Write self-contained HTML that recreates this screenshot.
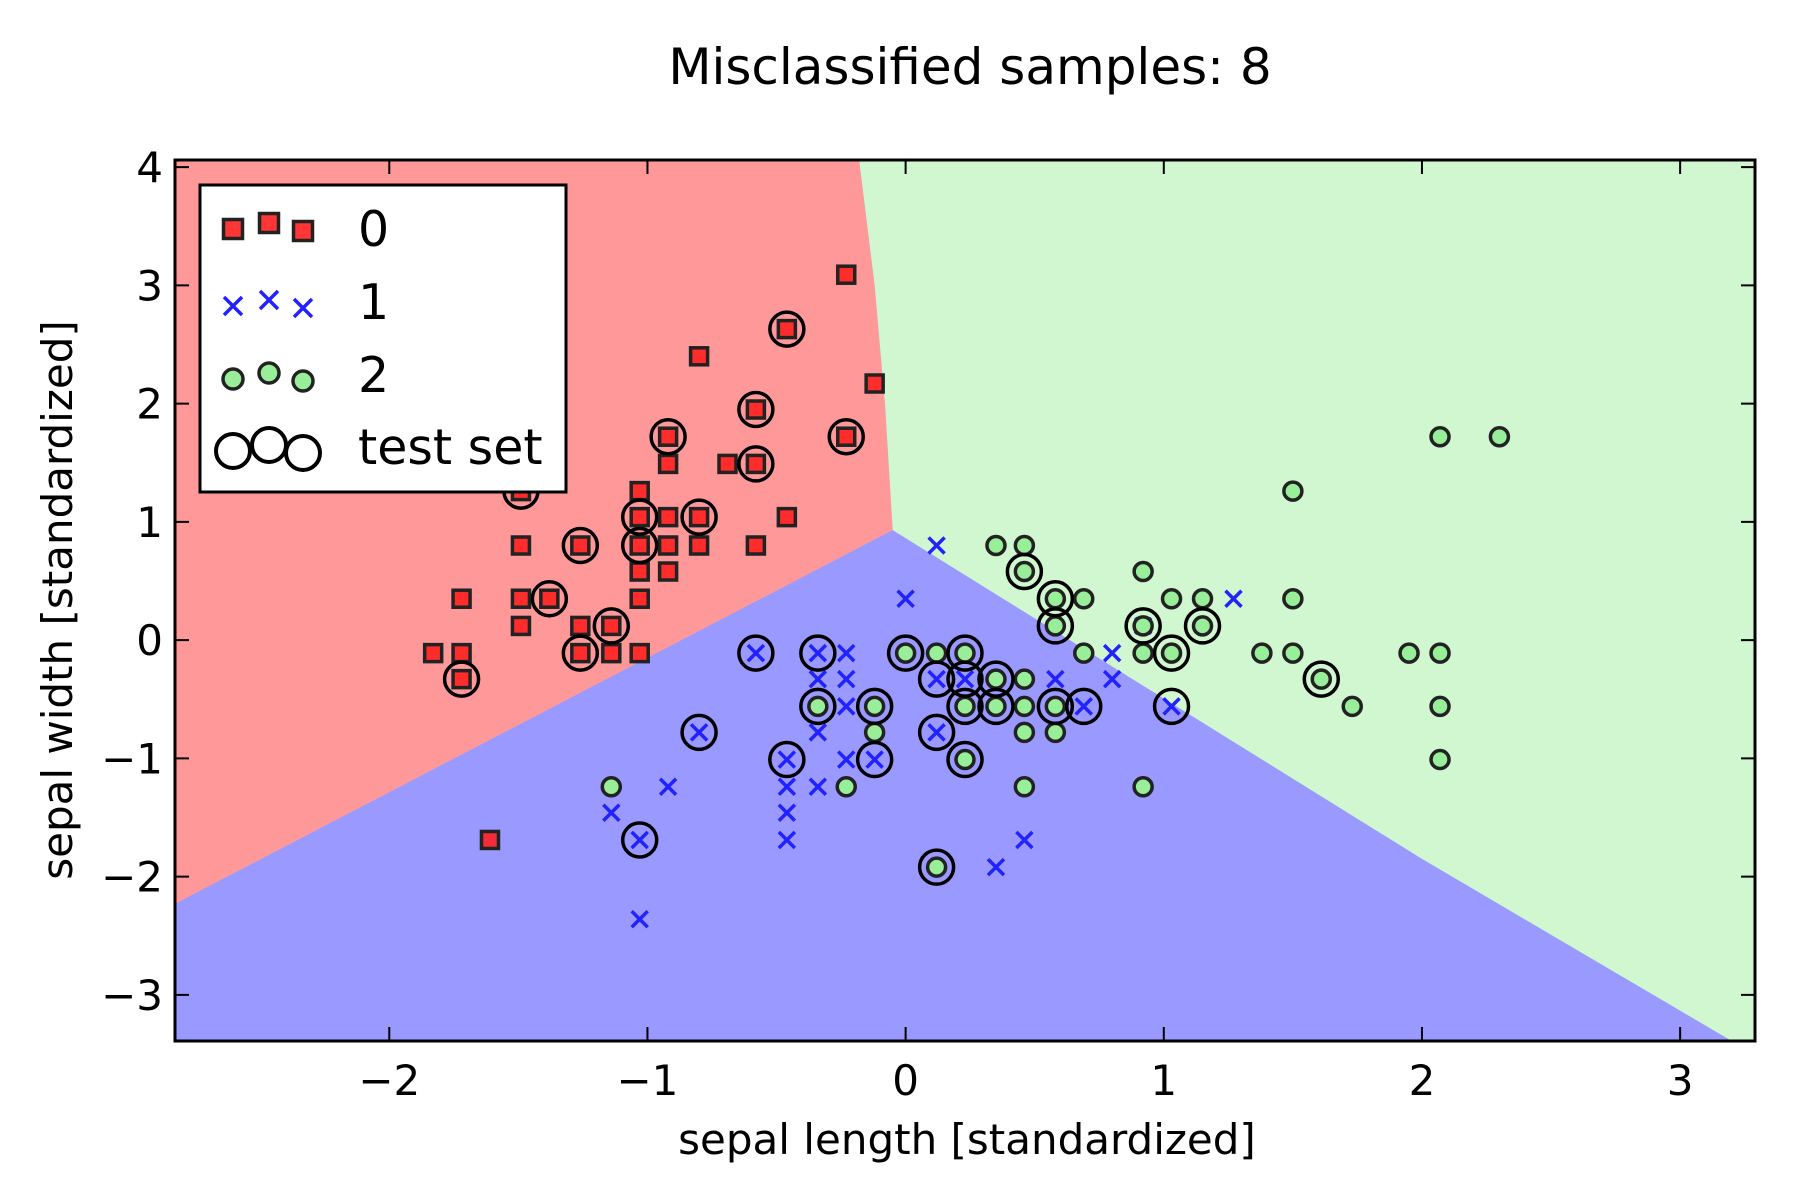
<!DOCTYPE html>
<html><head><meta charset="utf-8"><style>
html,body{margin:0;padding:0;background:#fff;}
svg{display:block;font-family:"DejaVu Sans","Liberation Sans",sans-serif;}
</style></head><body>
<svg id="chart" width="1800" height="1200" viewBox="0 0 1800 1200" xmlns="http://www.w3.org/2000/svg">
<text x="970" y="84" font-size="50" text-anchor="middle">Misclassified samples: 8</text>
<g id="plot"></g>
<text x="967" y="1154" font-size="42" text-anchor="middle">sepal length [standardized]</text>
<text transform="translate(72,600) rotate(-90)" font-size="42" text-anchor="middle">sepal width [standardized]</text>
</svg>
<script>
const c0x=[-0.23,-0.12,-0.80,-0.46,-0.58,-0.92,-0.23,-0.69,-0.92,-0.58,-1.49,-1.03,-0.46,-1.03,-0.92,-0.80,-1.49,-1.26,-1.03,-0.92,-0.80,-0.58,-1.03,-0.92,-1.72,-1.49,-1.38,-1.03,-1.49,-1.26,-1.14,-1.83,-1.72,-1.26,-1.14,-1.03,-1.72,-1.61];
const c0y=[3.09,2.17,2.40,2.63,1.95,1.72,1.72,1.49,1.49,1.49,1.26,1.26,1.04,1.04,1.04,1.04,0.80,0.80,0.80,0.80,0.80,0.80,0.58,0.58,0.35,0.35,0.35,0.35,0.12,0.12,0.12,-0.11,-0.11,-0.11,-0.11,-0.11,-0.33,-1.69];
const c1x=[0.12,0.00,1.27,-0.58,-0.34,-0.23,0.80,-0.23,-0.34,0.23,0.80,0.58,-0.23,0.69,1.03,-0.34,-0.80,0.12,-0.46,-0.23,-0.12,-0.92,-0.46,-0.34,-1.14,-0.46,-0.46,-1.03,0.46,0.35,-1.03,0.92,0.12];
const c1y=[0.80,0.35,0.35,-0.11,-0.11,-0.11,-0.11,-0.33,-0.33,-0.33,-0.33,-0.33,-0.56,-0.56,-0.56,-0.78,-0.78,-0.78,-1.01,-1.01,-1.01,-1.24,-1.24,-1.24,-1.46,-1.46,-1.69,-1.69,-1.69,-1.92,-2.36,0.12,-0.33];
const c2x=[2.07,2.30,1.50,0.35,0.46,0.46,0.92,0.58,0.69,1.03,1.15,1.50,0.58,0.92,1.15,0.00,0.12,0.23,0.69,0.92,1.03,1.38,1.50,1.95,2.07,0.35,0.46,1.61,-0.34,-0.12,0.23,0.35,0.46,0.58,1.73,2.07,-0.12,0.46,0.58,0.23,2.07,-1.14,-0.23,0.46,0.92,0.12];
const c2y=[1.72,1.72,1.26,0.80,0.80,0.58,0.58,0.35,0.35,0.35,0.35,0.35,0.12,0.12,0.12,-0.11,-0.11,-0.11,-0.11,-0.11,-0.11,-0.11,-0.11,-0.11,-0.11,-0.33,-0.33,-0.33,-0.56,-0.56,-0.56,-0.56,-0.56,-0.56,-0.56,-0.56,-0.78,-0.78,-0.78,-1.01,-1.01,-1.24,-1.24,-1.24,-1.24,-1.92];
const testX=[-0.46,-0.58,-0.92,-0.23,-0.58,-1.49,-1.03,-0.80,-1.26,-1.03,-1.38,-1.14,-1.26,-1.72,0.46,0.58,0.58,0.92,1.15,-0.58,-0.34,0.00,0.23,1.03,0.12,0.23,0.35,1.61,-0.34,-0.12,0.23,0.35,0.58,0.69,1.03,-0.80,0.12,-0.46,-0.12,0.23,-1.03,0.12];
const testY=[2.63,1.95,1.72,1.72,1.49,1.26,1.04,1.04,0.80,0.80,0.35,0.12,-0.11,-0.33,0.58,0.35,0.12,0.12,0.12,-0.11,-0.11,-0.11,-0.11,-0.11,-0.33,-0.33,-0.33,-0.33,-0.56,-0.56,-0.56,-0.56,-0.56,-0.56,-0.56,-0.78,-0.78,-1.01,-1.01,-1.01,-1.69,-1.92];
const xTicks=[-2,-1,0,1,2,3];
const yTicks=[-3,-2,-1,0,1,2,3,4];
const redRegion=[[-2.83,4.06],[-0.18,4.06],[-0.12,3.0],[-0.08,2.0],[-0.05,0.93],[-2.83,-2.23]];
const greenRegion=[[-0.18,4.06],[3.29,4.06],[3.29,-3.39],[3.2,-3.39],[2.0,-1.85],[-0.05,0.93],[-0.08,2.0],[-0.12,3.0]];

const L=175,R=1755,T=160,B=1041;
const xmin=-2.83,xmax=3.29,ymin=-3.39,ymax=4.06;
const sx=v=>L+(v-xmin)/(xmax-xmin)*(R-L);
const sy=v=>B-(v-ymin)/(ymax-ymin)*(B-T);
const NS="http://www.w3.org/2000/svg";
const g=document.getElementById('plot');
function mk(t,a,p){const e=document.createElementNS(NS,t);for(const k in a)e.setAttribute(k,a[k]);(p||g).appendChild(e);return e;}

let bg=mk('rect',{x:L,y:T,width:R-L,height:B-T,fill:'#9999ff'});


let rr=mk('polygon',{points:redRegion.map(p=>sx(p[0])+','+sy(p[1])).join(' '),fill:'#ff9999'});


let gr=mk('polygon',{points:greenRegion.map(p=>sx(p[0])+','+sy(p[1])).join(' '),fill:'#d0f7d0'});



function square(x,y,s,p){return mk('rect',{x:x-s/2,y:y-s/2,width:s,height:s,fill:'#ff2020','fill-opacity':0.9,stroke:'#222',"stroke-width":3.5},p);}
function cross(x,y,s,p){return mk('path',{d:`M${x-s} ${y-s}L${x+s} ${y+s}M${x-s} ${y+s}L${x+s} ${y-s}`,stroke:'#2222ff',"stroke-width":3.5,fill:'none'},p);}
function dot(x,y,r,p){return mk('circle',{cx:x,cy:y,r:r,fill:'#99ee99',stroke:'#222',"stroke-width":3.5},p);}

c0x.forEach((v,i)=>{const e=square(sx(v),sy(c0y[i]),17);

});
c1x.forEach((v,i)=>{const e=cross(sx(v),sy(c1y[i]),8);

});
c2x.forEach((v,i)=>{const e=dot(sx(v),sy(c2y[i]),9);

});
testX.forEach((v,i)=>{const e=mk('circle',{cx:sx(v),cy:sy(testY[i]),r:17,fill:'none',stroke:'#000',"stroke-width":3.5});

});

let fr=mk('rect',{x:L,y:T,width:R-L,height:B-T,fill:'none',stroke:'#000',"stroke-width":3});


xTicks.forEach(v=>{const x=sx(v);
mk('path',{d:`M${x} ${B}V${B-14}M${x} ${T}V${T+14}`,stroke:'#000',"stroke-width":2});
const t=mk('text',{x:x,y:B+54,"font-size":42,"text-anchor":"middle"});t.textContent=(v<0?'\u2212':'')+Math.abs(v);

});
yTicks.forEach(v=>{const y=sy(v);
mk('path',{d:`M${L} ${y}H${L+14}M${R} ${y}H${R-14}`,stroke:'#000',"stroke-width":2});
const t=mk('text',{x:L-12,y:y+15,"font-size":42,"text-anchor":"end"});t.textContent=(v<0?'\u2212':'')+Math.abs(v);

});

const lg=mk('g',{});


mk('rect',{x:200,y:185,width:366,height:307,fill:'#fff',stroke:'#000',"stroke-width":3},lg);
const lx=[233,269,303],ly=[4,-2,6];
const rows=[['0',229],['1',302],['2',375],['test set',447]];
rows.forEach((r,k)=>{const gg=mk('g',{},lg);


lx.forEach((x,j)=>{const y=r[1]+ly[j];
if(k===0)square(x,y-4,19,gg);else if(k===1)cross(x,y,9,gg);else if(k===2)dot(x,y,10,gg);
else mk('circle',{cx:x,cy:y,r:17,fill:'none',stroke:'#000',"stroke-width":4},gg);});
const t=mk('text',{x:358,y:r[1]+17,"font-size":49},gg);t.textContent=r[0];});
</script>
</body></html>
